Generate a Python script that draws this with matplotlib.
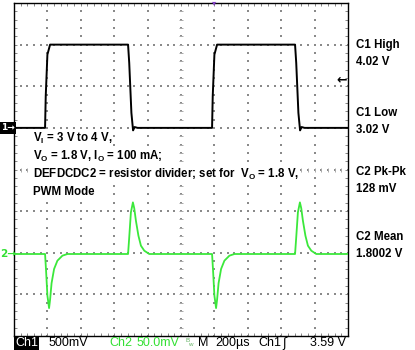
import matplotlib
matplotlib.use('Agg')
import matplotlib.pyplot as plt
from matplotlib import font_manager as fm

# ---------------- data ----------------
# Ch1 (black) : time in microseconds, voltage in V
ch1_t = [0, 186, 190, 200, 216, 683, 690, 703, 713, 722, 740,
         1186, 1190, 1200, 1216, 1683, 1690, 1703, 1713, 1722, 1740, 2000]
ch1_v = [3.02, 3.02, 3.40, 3.90, 4.02, 4.02, 3.80, 3.20, 2.99, 3.03, 3.02,
         3.02, 3.40, 3.90, 4.02, 4.02, 3.80, 3.20, 2.99, 3.03, 3.02, 3.02]
# Ch2 (green) : time in microseconds, deviation from mean in mV
ch2_t = [0, 186, 192, 200, 210, 216, 225, 240, 260, 290, 320,
         683, 690, 700, 712, 720, 730, 745, 760, 780, 810,
         1186, 1192, 1200, 1210, 1216, 1225, 1240, 1260, 1290, 1320,
         1683, 1690, 1700, 1712, 1720, 1730, 1745, 1760, 1780, 1810, 2000]
ch2_mv = [0, 0, -20, -50, -65, -55, -35, -18, -8, -2, 0,
          0, 20, 50, 62, 55, 40, 22, 10, 4, 0,
          0, -20, -50, -65, -55, -35, -18, -8, -2, 0,
          0, 20, 50, 62, 55, 40, 22, 10, 4, 0, 0]

ch1_scale, ch1_ref, ch1_pos = 0.5, 3.02, 5.0      # V/div, V, div
ch2_scale, ch2_pos = 50.0, 1.97                    # mV/div, div

info_lines = [r"$\mathbf{V_I}$ = 3 V to 4 V,",
              r"$\mathbf{V_O}$ = 1.8 V, $\mathbf{I_O}$ = 100 mA;",
              r"DEFDCDC2 = resistor divider; set for  $\mathbf{V_O}$ = 1.8 V,",
              "PWM Mode"]
meas_labels = [("C1 High", "4.02 V"), ("C1 Low", "3.02 V"),
               ("C2 Pk-Pk", "128 mV"), ("C2 Mean", "1.8002 V")]

# ---------------- fonts ----------------
def has_font(name):
    try:
        fm.findfont(fm.FontProperties(family=name), fallback_to_default=False)
        return True
    except Exception:
        return False

bold_font = 'Liberation Sans' if has_font('Liberation Sans') else 'DejaVu Sans'
narrow = 'Liberation Sans Narrow' if has_font('Liberation Sans Narrow') else bold_font
plt.rcParams['font.family'] = [bold_font, 'DejaVu Sans']
plt.rcParams['mathtext.fontset'] = 'custom'
plt.rcParams['mathtext.rm'] = bold_font
plt.rcParams['mathtext.bf'] = bold_font + ':bold'

W, H = 415, 350
fig = plt.figure(figsize=(W / 100, H / 100), dpi=100)
fig.patch.set_facecolor('white')
ax = fig.add_axes([14 / W, 14 / H, 334 / W, 333 / H])
ax.set_xlim(0, 2000)
ax.set_ylim(0, 8)

def fx(x):
    return x / W

def fy(y):
    return 1 - y / H

# ---------------- graticule ----------------
gcol = '#8a8a8a'
xmaj = [200 * i for i in range(1, 10)]
ymaj = [i for i in range(1, 8)]
xmin = [40 * i for i in range(0, 51)]
ymin = [0.2 * i for i in range(0, 41)]
dx, dy = [], []
for xm in xmaj:
    for ym in ymin:
        dx.append(xm); dy.append(ym)
for ym in ymaj:
    for xm in xmin:
        dx.append(xm); dy.append(ym)
ax.scatter(dx, dy, s=1.0, marker='s', color=gcol, linewidths=0, zorder=1)
# center crosshair ticks
ax.plot([1000] * len(ymin), ymin, linestyle='none', marker='_', ms=3, mew=0.7, color='#aaaaaa', zorder=1)
ax.plot(xmin, [4] * len(xmin), linestyle='none', marker='|', ms=3, mew=0.7, color='#aaaaaa', zorder=1)

ax.set_xticks(xmaj)
ax.set_yticks(ymaj)
ax.set_xticks(xmin, minor=True)
ax.set_yticks(ymin, minor=True)
ax.tick_params(which='both', direction='in', length=2.5, width=0.7, color='#888888',
               top=True, right=True, labelbottom=False, labelleft=False)
for sp in ax.spines.values():
    sp.set_color('black')
    sp.set_linewidth(1.0)

# ---------------- traces ----------------
y1 = [ch1_pos + (v - ch1_ref) / ch1_scale for v in ch1_v]
y2 = [ch2_pos + m / ch2_scale for m in ch2_mv]
ax.plot(ch2_t, y2, color='#3be83b', lw=1.3, zorder=3)
ax.plot(ch1_t, y1, color='black', lw=1.4, zorder=4)

# ---------------- annotation text in plot ----------------
for i, line in enumerate(info_lines):
    ax.text(fx(33), fy(138 + 18 * i), line, transform=fig.transFigure,
            fontsize=8.3, fontweight='bold', va='center', ha='left', zorder=5,
            bbox=dict(facecolor='white', edgecolor='none', pad=0.6))

# trigger level arrow (right)
fig.text(fx(342), fy(80), '\u2190', fontsize=9, fontweight='bold', ha='center', va='center',
         family='DejaVu Sans')
# trigger position marker (top)
fig.text(fx(214), fy(3), '\u25BE', fontsize=6, color='#8040c0', ha='center', va='center',
         family='DejaVu Sans')

# channel markers (left)
fig.text(fx(1), fy(128), '1\u2192', fontsize=6.5, color='white', ha='left', va='center',
         fontweight='bold', family='DejaVu Sans',
         bbox=dict(facecolor='black', edgecolor='none', pad=0.8))
fig.text(fx(0), fy(254), '2\u2192', fontsize=7.5, color='#33e033', ha='left', va='center',
         fontweight='bold', family='DejaVu Sans')

# ---------------- measurements (right) ----------------
ys = [45, 113, 172, 237]
for (a, b), y in zip(meas_labels, ys):
    fig.text(fx(356), fy(y), a, fontsize=8.3, fontweight='bold', ha='left', va='center')
    fig.text(fx(356), fy(y + 17), b, fontsize=8.3, fontweight='bold', ha='left', va='center')

# ---------------- status bar ----------------
sb_y = fy(343)
fs = 9
fig.text(fx(15), sb_y, 'Ch1', fontsize=fs, color='white', family=narrow, ha='left', va='center',
         bbox=dict(facecolor='black', edgecolor='none', pad=0.8))
fig.text(fx(49), sb_y, '500mV', fontsize=fs, color='black', family=narrow, ha='left', va='center')
fig.text(fx(109), sb_y, 'Ch2', fontsize=fs, color='#33e033', family=narrow, ha='left', va='center')
fig.text(fx(137), sb_y, '50.0mV', fontsize=fs, color='#33e033', family=narrow, ha='left', va='center')
fig.text(fx(185), fy(340), 'B', fontsize=4.5, color='#60b060', family=narrow, ha='left', va='center')
fig.text(fx(188), fy(345), 'w', fontsize=4.5, color='#60b060', family=narrow, ha='left', va='center')
fig.text(fx(198), sb_y, 'M', fontsize=fs, color='black', family=narrow, ha='left', va='center')
fig.text(fx(215), sb_y, '200\u00b5s', fontsize=fs, color='black', family=narrow, ha='left', va='center')
fig.text(fx(258), sb_y, 'Ch1', fontsize=fs, color='black', family=narrow, ha='left', va='center')
fig.text(fx(282), sb_y, '\u0283', fontsize=fs, color='black', family='DejaVu Sans', ha='left', va='center')
fig.text(fx(310), sb_y, '3.59 V', fontsize=fs, color='black', family=narrow, ha='left', va='center')

fig.savefig('out.png', dpi=100, facecolor='white')
